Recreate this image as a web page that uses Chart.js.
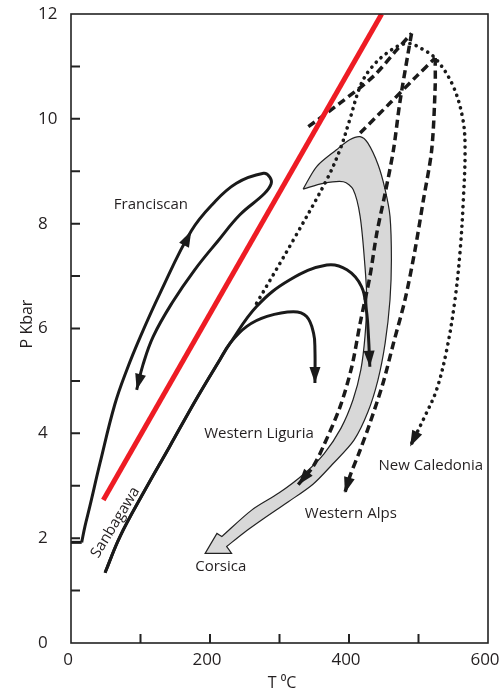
<!DOCTYPE html>
<html>
<head>
<meta charset="utf-8">
<script src="https://cdn.jsdelivr.net/npm/chart.js@4.4.0/dist/chart.umd.min.js"></script>
<style>
  html, body { margin: 0; padding: 0; background: #fff; }
  canvas { display: block; }
</style>
</head>
<body>
<canvas id="pt" width="502" height="694"></canvas>
<script>
// P-T paths (T in degC, P in kbar)
const redT = [46.5, 447];
const redP = [2.73, 12];

const franciscanFootT = [0, 15.4];
const franciscanFootP = [1.92, 1.92];
const franciscanT = [15.4, 20, 27, 41.7, 63, 80, 100, 128, 173, 205, 238, 277, 286, 288, 278, 243, 212, 178, 146, 118.4, 103.6, 94.5];
const franciscanP = [1.92, 2.22, 2.6, 3.43, 4.55, 5.2, 5.85, 6.67, 7.86, 8.39, 8.77, 8.96, 8.89, 8.76, 8.57, 8.17, 7.68, 7.12, 6.5, 5.85, 5.31, 4.83];

const sanbagawaT = [49, 70.5, 104, 142, 181, 214, 229];
const sanbagawaP = [1.34, 2.03, 2.86, 3.75, 4.67, 5.40, 5.72];
const liguriaHighT = [267, 315, 368, 397, 418, 425, 428, 430];
const liguriaHighP = [6.42, 6.93, 7.21, 7.12, 6.80, 6.35, 5.85, 5.27];
const liguriaLowT = [253, 282, 320, 339, 349, 351, 351];
const liguriaLowP = [6.04, 6.23, 6.32, 6.23, 5.91, 5.59, 4.96];

const innerDashUpT = [341.5, 387, 435, 469, 490];
const innerDashUpP = [9.85, 10.3, 10.81, 11.32, 11.63];
const innerDashDownT = [490, 485, 473, 464, 452, 440, 430, 416, 404, 387, 363, 348, 327];
const innerDashDownP = [11.63, 11.25, 10.3, 9.41, 8.58, 7.82, 6.99, 6.10, 5.27, 4.5, 3.75, 3.36, 3.02];

const outerDashUpT = [416, 459, 497, 524];
const outerDashUpP = [9.73, 10.3, 10.81, 11.16];
const outerDashDownT = [524, 524, 519, 507, 495, 480.6, 464, 449, 430, 416, 401, 394];
const outerDashDownP = [11.16, 10.62, 9.41, 8.45, 7.5, 6.55, 5.72, 4.96, 4.19, 3.68, 3.17, 2.86];

const caledoniaT = [267, 320, 368, 387, 401, 416, 430, 454, 483, 507, 526, 550, 564, 567, 564.5, 560, 552.5, 540.6, 526, 509, 488];
const caledoniaP = [6.48, 7.69, 8.84, 9.41, 9.98, 10.62, 10.94, 11.25, 11.44, 11.32, 11.13, 10.62, 9.98, 9.41, 8.45, 7.5, 6.55, 5.59, 4.83, 4.32, 3.75];

// Corsica band outline (closed; repeated points are sharp corners)
const corsicaT = [334, 353.5, 382, 401, 416, 427, 442, 452, 459, 461, 459, 452, 441.7, 427.3, 407.2, 375.5, 348.2, 312.2, 274.8, 247.5, 224, 224, 231, 231, 193, 193, 210, 210, 217, 217, 260.4, 299, 333.8, 364, 388.5, 405.8, 417, 423, 425.5, 423, 416, 406, 392, 363, 334];
const corsicaP = [8.66, 9.09, 9.41, 9.60, 9.66, 9.54, 9.12, 8.65, 8.14, 7.31, 6.55, 5.72, 5.02, 4.41, 3.87, 3.40, 3.03, 2.69, 2.35, 2.09, 1.84, 1.84, 1.71, 1.71, 1.71, 1.71, 2.09, 2.09, 2.03, 2.03, 2.54, 2.86, 3.21, 3.61, 4.10, 4.64, 5.21, 5.85, 6.55, 7.18, 8.14, 8.65, 8.80, 8.77, 8.66];

// labels: [text, T, P, angle]
const pathLabels = [
  ['Franciscan', 115, 8.36, 0],
  ['Western Liguria', 270.5, 3.99, 0],
  ['New Caledonia', 517.7, 3.38, 0],
  ['Western Alps', 402.6, 2.47, 0],
  ['Corsica', 215.5, 1.46, 0],
  ['Sanbagawa', 64, 2.3, -58.5]
];

const xy = (T, P) => T.map((t, i) => ({ x: t, y: P[i] }));
const INK = '#1a1a1a';
const FONT = "'Open Sans', 'DejaVu Sans', sans-serif";

function solid(data, arrows, extra) {
  return Object.assign({
    data: data, showLine: true, pointRadius: 0, borderColor: INK,
    borderWidth: 3, tension: 0.4, fill: false, arrows: arrows || [], order: 1
  }, extra || {});
}

const dashed = { borderDash: [8, 4.5], borderWidth: 3.5, tension: 0.3 };

const datasets = [
  // band at the back
  {
    data: xy(corsicaT, corsicaP), showLine: true, pointRadius: 0,
    borderColor: '#222', borderWidth: 1.2, backgroundColor: '#d8d8d8',
    fill: 'shape', tension: 0.3, order: 10, arrows: []
  },
  solid(xy(redT, redP), [], { borderColor: '#ee1c24', borderWidth: 5, tension: 0 }),
  solid(xy(franciscanFootT, franciscanFootP), [], { tension: 0 }),
  solid(xy(franciscanT, franciscanP), [8, franciscanT.length - 1]),
  solid(xy(sanbagawaT.concat(liguriaHighT), sanbagawaP.concat(liguriaHighP)), [sanbagawaT.length + liguriaHighT.length - 1]),
  solid(xy(sanbagawaT.concat(liguriaLowT), sanbagawaP.concat(liguriaLowP)), [sanbagawaT.length + liguriaLowT.length - 1]),
  solid(xy(innerDashUpT, innerDashUpP), [], dashed),
  solid(xy(innerDashDownT, innerDashDownP), [innerDashDownT.length - 1], dashed),
  solid(xy(outerDashUpT, outerDashUpP), [], dashed),
  solid(xy(outerDashDownT, outerDashDownP), [outerDashDownT.length - 1], dashed),
  solid(xy(caledoniaT, caledoniaP), [caledoniaT.length - 1], { borderDash: [0.1, 6.5], borderCapStyle: 'round', borderWidth: 3.6, tension: 0.35 })
];

const decor = {
  id: 'decor',
  afterDatasetsDraw(chart) {
    const ctx = chart.ctx;
    ctx.save();
    ctx.fillStyle = INK;
    chart.data.datasets.forEach((ds, di) => {
      const meta = chart.getDatasetMeta(di);
      ds.arrows.forEach(idx => {
        const p2 = meta.data[idx], p1 = meta.data[idx - 1];
        const a = Math.atan2(p2.y - p1.y, p2.x - p1.x);
        const L = 16, W = 5.5;
        ctx.beginPath();
        ctx.moveTo(p2.x, p2.y);
        ctx.lineTo(p2.x - L * Math.cos(a) - W * Math.sin(a), p2.y - L * Math.sin(a) + W * Math.cos(a));
        ctx.lineTo(p2.x - L * Math.cos(a) + W * Math.sin(a), p2.y - L * Math.sin(a) - W * Math.cos(a));
        ctx.closePath();
        ctx.fill();
      });
    });
    ctx.restore();
  },
  afterDraw(chart) {
    const ctx = chart.ctx;
    const { left, right, top, bottom } = chart.chartArea;
    const sx = chart.scales.x, sy = chart.scales.y;
    ctx.save();
    ctx.strokeStyle = '#222';
    ctx.lineWidth = 1.6;
    ctx.strokeRect(left, top, right - left, bottom - top);
    // inward ticks
    ctx.lineWidth = 2;
    ctx.beginPath();
    for (let p = 1; p < 12; p++) {
      const y = sy.getPixelForValue(p);
      ctx.moveTo(left, y); ctx.lineTo(left + 9, y);
    }
    for (let t = 100; t < 600; t += 100) {
      const x = sx.getPixelForValue(t);
      ctx.moveTo(x, bottom); ctx.lineTo(x, bottom - 9);
    }
    ctx.stroke();
    // path labels
    ctx.fillStyle = '#231f20';
    ctx.font = '15px ' + FONT;
    ctx.textAlign = 'center';
    ctx.textBaseline = 'middle';
    pathLabels.forEach(([txt, t, p, ang]) => {
      ctx.save();
      ctx.translate(sx.getPixelForValue(t), sy.getPixelForValue(p));
      ctx.rotate(ang * Math.PI / 180);
      ctx.fillText(txt, 0, 0);
      ctx.restore();
    });
    // axis titles
    ctx.font = '16px ' + FONT;
    ctx.save();
    ctx.translate(27, 324);
    ctx.rotate(-Math.PI / 2);
    ctx.fillText('P Kbar', 0, 0);
    ctx.restore();
    ctx.fillText('T \u2070C', 282, 683);
    ctx.restore();
  }
};

new Chart(document.getElementById('pt'), {
  type: 'scatter',
  data: { datasets: datasets },
  options: {
    responsive: false,
    animation: false,
    devicePixelRatio: 1,
    layout: { padding: { left: 38, top: 14, right: 14, bottom: 0 } },
    plugins: { legend: { display: false }, tooltip: { enabled: false } },
    scales: {
      x: {
        type: 'linear', min: 0, max: 600,
        grid: { display: false, drawTicks: false },
        border: { display: false },
        ticks: { stepSize: 200, padding: 7, labelOffset: -3, color: '#231f20', font: { family: FONT, size: 17 } },
        afterFit: s => { s.height = 51; s.paddingLeft = 0; s.paddingRight = 0; }
      },
      y: {
        type: 'linear', min: 0, max: 12,
        grid: { display: false, drawTicks: false },
        border: { display: false },
        ticks: { stepSize: 2, crossAlign: 'far', padding: 0, color: '#231f20', font: { family: FONT, size: 17 } },
        afterFit: s => { s.width = 33; }
      }
    }
  },
  plugins: [decor]
});
</script>
</body>
</html>
